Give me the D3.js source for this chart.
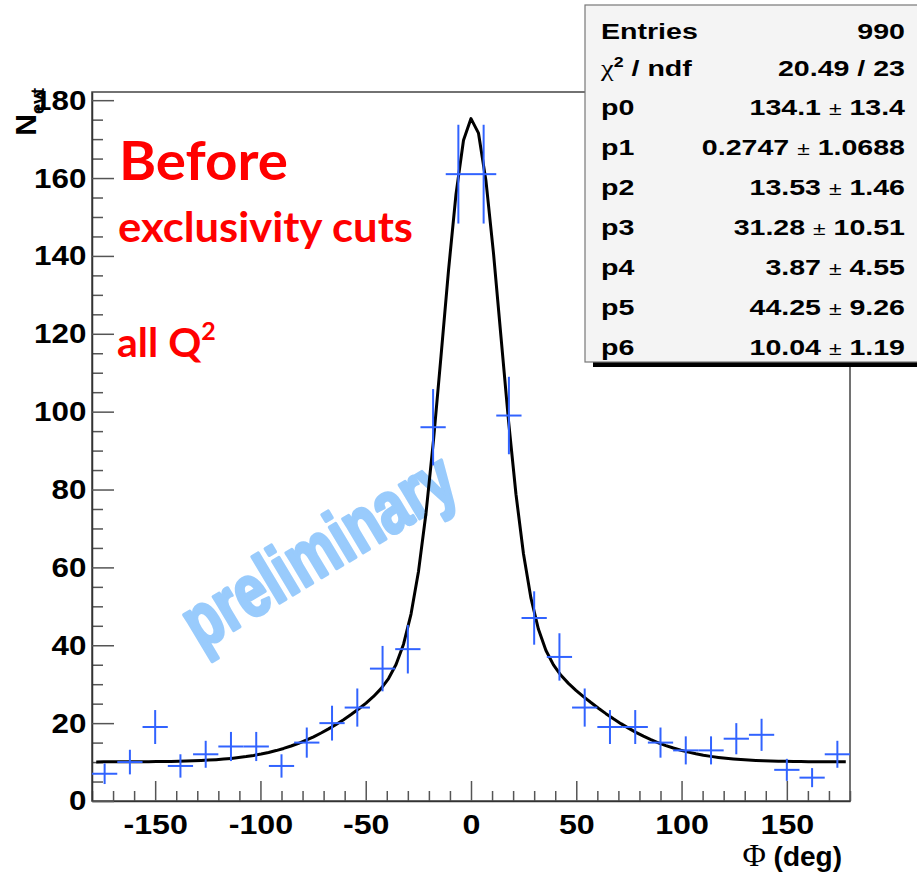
<!DOCTYPE html>
<html>
<head>
<meta charset="utf-8">
<script src="https://cdn.jsdelivr.net/npm/d3@7"></script>
<style>
  body { margin: 0; background: #fff; }
  svg { display: block; }
</style>
</head>
<body>
<svg id="chart" width="917" height="878"></svg>
<script>
// Φ distribution: bin centres (deg), 12° wide bins, and event counts
const binCenters = [-174, -162, -150, -138, -126, -114, -102, -90, -78, -66, -54, -42, -30, -18, -6,
                    6, 18, 30, 42, 54, 66, 78, 90, 102, 114, 126, 138, 150, 162, 174];
const binCounts = [7, 10, 19, 9, 12, 14, 14, 9, 15, 20, 24, 34, 39, 96, 161,
                   161, 99, 47, 37, 24, 19, 19, 15, 13, 13, 16, 17, 8, 6, 12];
const binHalfWidth = 6;

// fit: p0*gaus(p1,p2) + p3*gaus(p4,p5) + p6
const fitParams = [134.1, 0.2747, 13.53, 31.28, 3.87, 44.25, 10.04];
const fitRange = [-178, 178];
const fitPoints = 100;

const xTicks = [-150, -100, -50, 0, 50, 100, 150];
const yTicks = [0, 20, 40, 60, 80, 100, 120, 140, 160, 180];

const statNames = ["Entries", "chi2", "p0", "p1", "p2", "p3", "p4", "p5", "p6"];
const statValues = ["990", "20.49 / 23", "134.1 ± 13.4", "0.2747 ± 1.0688", "13.53 ± 1.46",
                    "31.28 ± 10.51", "3.87 ± 4.55", "44.25 ± 9.26", "10.04 ± 1.19"];

const svg = d3.select("#chart");
const frame = { left: 92, right: 850, top: 92, bottom: 801 };

const x = d3.scaleLinear().domain([-180, 180]).range([frame.left, frame.right]);
const y = d3.scaleLinear().domain([0, 182.1]).range([frame.bottom, frame.top]);

const axisFont = "'Liberation Sans', Arial, Helvetica, sans-serif";
const blue = "#3163ff";

// watermark (drawn under the data)
svg.append("text")
  .attr("transform", "translate(318,550) rotate(-31)")
  .attr("text-anchor", "middle")
  .attr("dominant-baseline", "central")
  .attr("font-family", "'Liberation Sans Narrow', 'Liberation Sans', sans-serif")
  .attr("font-weight", "bold")
  .attr("font-size", 74)
  .attr("fill", "#99cbfc")
  .attr("stroke", "#99cbfc")
  .attr("stroke-width", 3.5)
  .attr("stroke-linejoin", "round")
  .attr("textLength", 305)
  .attr("lengthAdjust", "spacingAndGlyphs")
  .text("preliminary");

// frame
svg.append("rect")
  .attr("x", frame.left).attr("y", frame.top)
  .attr("width", frame.right - frame.left).attr("height", frame.bottom - frame.top)
  .attr("fill", "none").attr("stroke", "#444").attr("stroke-width", 1.5);

// minor ticks
const xMinor = d3.range(-180, 181, 10).filter(v => v % 50 !== 0);
const yMinor = d3.range(0, 181, 5).filter(v => v % 20 !== 0);

svg.append("g")
  .attr("transform", `translate(0,${frame.bottom})`)
  .call(d3.axisBottom(x).tickValues(xMinor).tickSizeInner(-10).tickSizeOuter(0).tickFormat(""))
  .call(g => g.select(".domain").remove())
  .call(g => g.selectAll("line").attr("stroke", "#555").attr("stroke-width", 1.5));

svg.append("g")
  .attr("transform", `translate(${frame.left},0)`)
  .call(d3.axisLeft(y).tickValues(yMinor).tickSizeInner(-11).tickSizeOuter(0).tickFormat(""))
  .call(g => g.select(".domain").remove())
  .call(g => g.selectAll("line").attr("stroke", "#555").attr("stroke-width", 1.5));

// major ticks + labels
const xAxis = svg.append("g")
  .attr("transform", `translate(0,${frame.bottom})`)
  .call(d3.axisBottom(x).tickValues(xTicks).tickSizeInner(-20).tickSizeOuter(0).tickPadding(13).tickFormat(d3.format("d")))
  .call(g => g.select(".domain").attr("stroke", "#333").attr("stroke-width", 1.5));
xAxis.selectAll("line").attr("stroke", "#555").attr("stroke-width", 1.5);
xAxis.selectAll("text")
  .attr("font-family", axisFont).attr("font-weight", "bold").attr("font-size", 28)
  .attr("fill", "#000")
  .text(d => d < 0 ? "-" + Math.abs(d) : d)
  .attr("transform", "scale(1.15,1)");

const yAxis = svg.append("g")
  .attr("transform", `translate(${frame.left},0)`)
  .call(d3.axisLeft(y).tickValues(yTicks).tickSizeInner(-22).tickSizeOuter(0).tickPadding(5))
  .call(g => g.select(".domain").attr("stroke", "#333").attr("stroke-width", 1.5));
yAxis.selectAll("line").attr("stroke", "#555").attr("stroke-width", 1.5);
yAxis.selectAll("text")
  .attr("font-family", axisFont).attr("font-weight", "bold").attr("font-size", 28)
  .attr("fill", "#000")
  .attr("transform", "scale(1.12,1)");

// axis titles
const yTitle = svg.append("text")
  .attr("transform", "translate(36,88) rotate(-90)")
  .attr("text-anchor", "end")
  .attr("font-family", axisFont).attr("font-weight", "bold").attr("fill", "#000");
yTitle.append("tspan").attr("font-size", 30).text("N");
yTitle.append("tspan").attr("font-size", 18).attr("dy", 8).text("evt");

const xTitle = svg.append("text")
  .attr("x", 842).attr("y", 866)
  .attr("text-anchor", "end")
  .attr("font-family", axisFont).attr("font-weight", "bold").attr("font-size", 28).attr("fill", "#000");
xTitle.append("tspan").attr("font-family", "'Liberation Serif', 'DejaVu Serif', serif").attr("font-weight", "normal").attr("font-size", 32).text("Φ");
xTitle.append("tspan").text(" (deg)");

// fit curve
const fitFn = v => {
  const [p0, p1, p2, p3, p4, p5, p6] = fitParams;
  return p0 * Math.exp(-0.5 * ((v - p1) / p2) ** 2) + p3 * Math.exp(-0.5 * ((v - p4) / p5) ** 2) + p6;
};
const fitXs = d3.range(fitPoints + 1).map(i => fitRange[0] + (fitRange[1] - fitRange[0]) * i / fitPoints);
svg.append("path")
  .datum(fitXs)
  .attr("d", d3.line().x(d => x(d)).y(d => y(fitFn(d))))
  .attr("fill", "none").attr("stroke", "#000").attr("stroke-width", 3)
  .attr("stroke-linejoin", "round");

// data points with error bars
const points = binCenters.map((c, i) => ({ c, n: binCounts[i] }));
const pts = svg.append("g").attr("stroke", blue).attr("stroke-width", 2);
pts.selectAll("line.h").data(points).join("line").attr("class", "h")
  .attr("x1", d => x(d.c - binHalfWidth)).attr("x2", d => x(d.c + binHalfWidth))
  .attr("y1", d => y(d.n)).attr("y2", d => y(d.n));
pts.selectAll("line.v").data(points).join("line").attr("class", "v")
  .attr("x1", d => x(d.c)).attr("x2", d => x(d.c))
  .attr("y1", d => y(d.n - Math.sqrt(d.n))).attr("y2", d => y(d.n + Math.sqrt(d.n)));

// red annotations
const redFont = "Lato, 'Open Sans', sans-serif";
svg.append("text").attr("x", 119).attr("y", 180)
  .attr("font-family", redFont).attr("font-weight", "bold").attr("font-size", 53).attr("fill", "#ff0000")
  .attr("textLength", 169).attr("lengthAdjust", "spacingAndGlyphs")
  .text("Before");
svg.append("text").attr("x", 118).attr("y", 242)
  .attr("font-family", redFont).attr("font-weight", "bold").attr("font-size", 42).attr("fill", "#ff0000")
  .attr("textLength", 295).attr("lengthAdjust", "spacingAndGlyphs")
  .text("exclusivity cuts");
const q2 = svg.append("text").attr("x", 117).attr("y", 357)
  .attr("font-family", redFont).attr("font-weight", "bold").attr("font-size", 41).attr("fill", "#ff0000");
q2.append("tspan").text("all Q");
q2.append("tspan").attr("font-size", 25).attr("dy", -17).text("2");

// statistics box
const box = { x: 585, y: 5, w: 345, h: 357 };
svg.append("rect")
  .attr("x", box.x + 8).attr("y", box.y + box.h).attr("width", box.w).attr("height", 5)
  .attr("fill", "#000");
svg.append("rect")
  .attr("x", box.x).attr("y", box.y).attr("width", box.w).attr("height", box.h)
  .attr("fill", "#f4f4f4").attr("stroke", "#777").attr("stroke-width", 1.2);

const rowBase = [39, 76, 115, 155, 195, 235, 275, 315, 355];
const statFont = "'Liberation Sans', Arial, Helvetica, sans-serif";
statNames.forEach((name, i) => {
  const lab = svg.append("text")
    .attr("transform", `translate(601,${rowBase[i]}) scale(1.27,1)`)
    .attr("font-family", statFont).attr("font-weight", "bold").attr("font-size", 22.5).attr("fill", "#000");
  if (name === "chi2") {
    lab.append("tspan").attr("font-family", "'Liberation Serif', 'DejaVu Serif', serif").attr("font-weight", "normal").text("χ");
    lab.append("tspan").attr("font-size", 14).attr("dy", -9).text("2");
    lab.append("tspan").attr("dy", 9).text(" / ndf");
  } else {
    lab.text(name);
  }
  const val = svg.append("text")
    .attr("transform", `translate(905,${rowBase[i]}) scale(1.27,1)`)
    .attr("text-anchor", "end")
    .attr("font-family", statFont).attr("font-weight", "bold").attr("font-size", 22.5).attr("fill", "#000");
  const parts = statValues[i].split(" ± ");
  if (parts.length === 2) {
    val.append("tspan").text(parts[0] + " ");
    val.append("tspan").attr("font-weight", "normal").attr("font-size", 18).text("±");
    val.append("tspan").text(" " + parts[1]);
  } else {
    val.text(statValues[i]);
  }
});
</script>
</body>
</html>
